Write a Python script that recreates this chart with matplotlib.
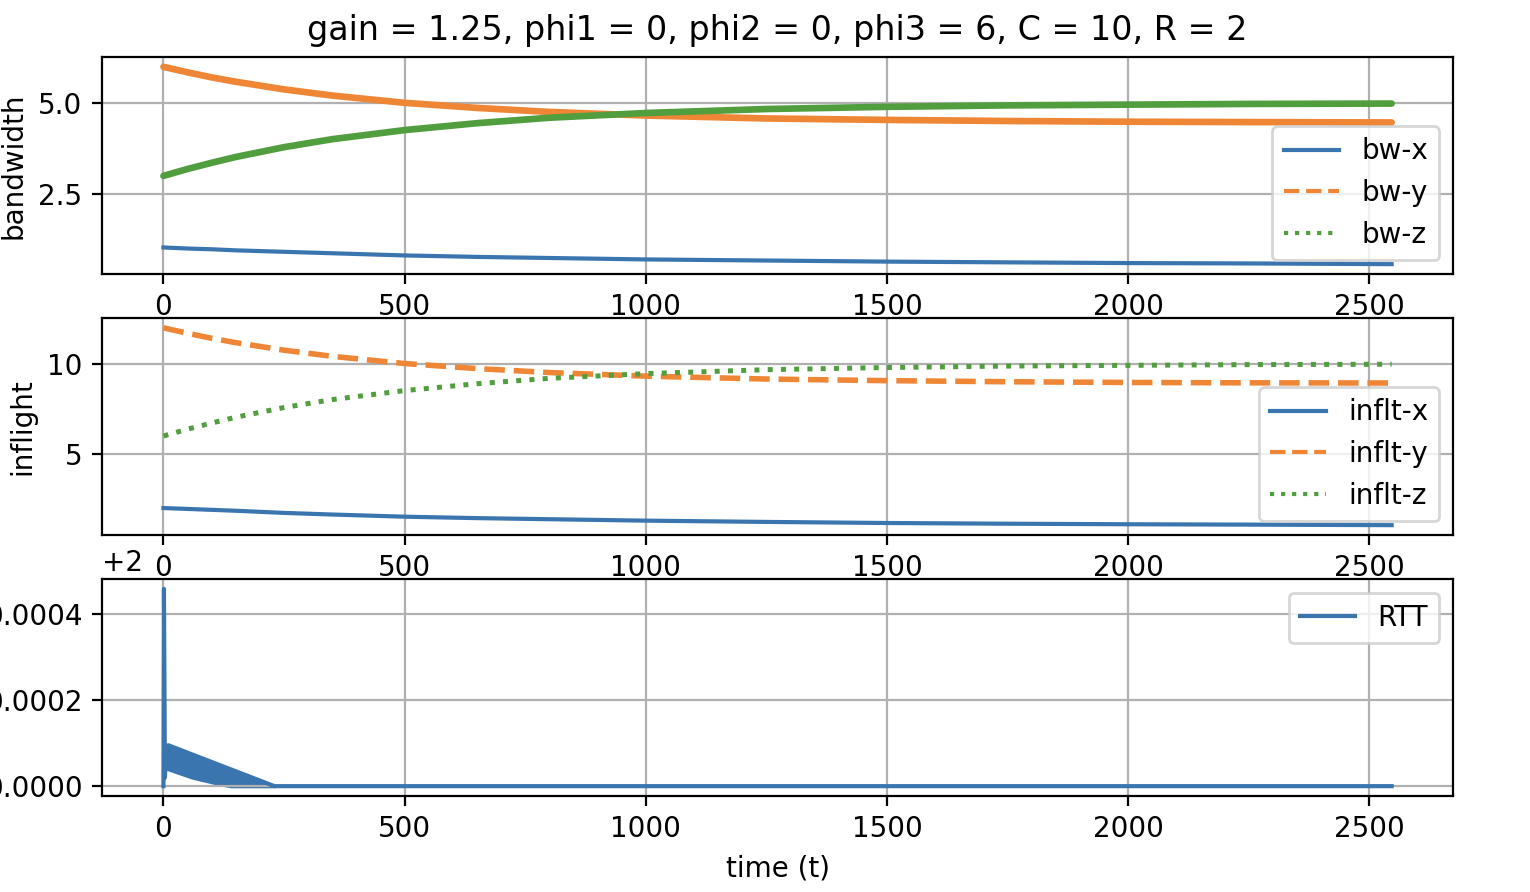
import matplotlib
matplotlib.use("Agg")
import matplotlib.pyplot as plt
from matplotlib.lines import Line2D

# time samples (t)
t = [0, 50, 100, 150, 250, 350, 500, 650, 800, 1000, 1250, 1500, 1750, 2000, 2250, 2546]

# bandwidth per flow
bw_x = [1.03, 1.00, 0.98, 0.95, 0.91, 0.87, 0.81, 0.77, 0.74, 0.70, 0.67, 0.64, 0.62, 0.60, 0.59, 0.57]
bw_y = [6.00, 5.85, 5.71, 5.59, 5.38, 5.21, 5.01, 4.87, 4.76, 4.66, 4.58, 4.54, 4.51, 4.49, 4.48, 4.47]
bw_z = [3.00, 3.19, 3.36, 3.52, 3.79, 4.01, 4.26, 4.45, 4.60, 4.73, 4.84, 4.90, 4.94, 4.96, 4.98, 4.99]

# inflight per flow
inflt_x = [2.00, 1.95, 1.90, 1.85, 1.73, 1.64, 1.52, 1.44, 1.38, 1.30, 1.23, 1.17, 1.13, 1.10, 1.08, 1.05]
inflt_y = [12.00, 11.70, 11.42, 11.18, 10.76, 10.42, 10.02, 9.74, 9.52, 9.32, 9.16, 9.07, 9.01, 8.97, 8.95, 8.94]
inflt_z = [6.00, 6.38, 6.72, 7.04, 7.58, 8.02, 8.52, 8.90, 9.20, 9.46, 9.68, 9.80, 9.88, 9.92, 9.96, 9.98]

# RTT: initial spike, then a decaying ripple band, then flat
rtt_t = [0, 1, 3, 6, 10, 230, 2546]
rtt_v = [2.0, 2.000458, 2.00002, 2.00009, 2.000095, 2.0, 2.0]
band_t = [8, 60, 120, 140, 180, 230]
band_hi = [2.000095, 2.000070, 2.000045, 2.000037, 2.000018, 2.000000]
band_lo = [2.000040, 2.000020, 2.000004, 2.000000, 2.000000, 2.000000]

C_X = "#3a75af"
C_Y = "#ef8636"
C_Z = "#519e3e"

fig, axes = plt.subplots(3, 1, figsize=(7.65, 4.46), dpi=200)
fig.subplots_adjust(left=0.0667, right=0.9497, top=0.9361, bottom=0.1076, hspace=0.2026)
ax1, ax2, ax3 = axes

# bandwidth
ax1.plot(t, bw_x, color=C_X, lw=1.5)
ax1.plot(t, bw_y, color=C_Y, lw=2.4, solid_capstyle="round")
ax1.plot(t, bw_z, color=C_Z, lw=2.4, solid_capstyle="round")
handles = [Line2D([], [], color=C_X, lw=1.5, ls="-"),
           Line2D([], [], color=C_Y, lw=1.5, ls="--"),
           Line2D([], [], color=C_Z, lw=1.5, ls=":")]
ax1.legend(handles, ["bw-x", "bw-y", "bw-z"], loc="lower right")
ax1.set_yticks([2.5, 5.0])
ax1.set_ylabel("bandwidth")
ax1.set_title("gain = 1.25, phi1 = 0, phi2 = 0, phi3 = 6, C = 10, R = 2", fontsize=12)
ax1.grid(True)

# inflight
ax2.plot(t, inflt_x, color=C_X, lw=1.5)
ax2.plot(t, inflt_y, color=C_Y, lw=2.0, ls="--")
ax2.plot(t, inflt_z, color=C_Z, lw=1.8, ls=":")
ax2.legend(handles, ["inflt-x", "inflt-y", "inflt-z"], loc="lower right")
ax2.set_ylabel("inflight")
ax2.grid(True)

# RTT
ax3.plot(rtt_t, rtt_v, color=C_X, lw=1.5, label="RTT")
ax3.fill_between(band_t, band_lo, band_hi, color=C_X, lw=1.2, edgecolor=C_X)
ax3.legend(loc="upper right")
ax3.set_xlabel("time (t)")
ax3.grid(True)

plt.savefig("out.png", dpi=200)
